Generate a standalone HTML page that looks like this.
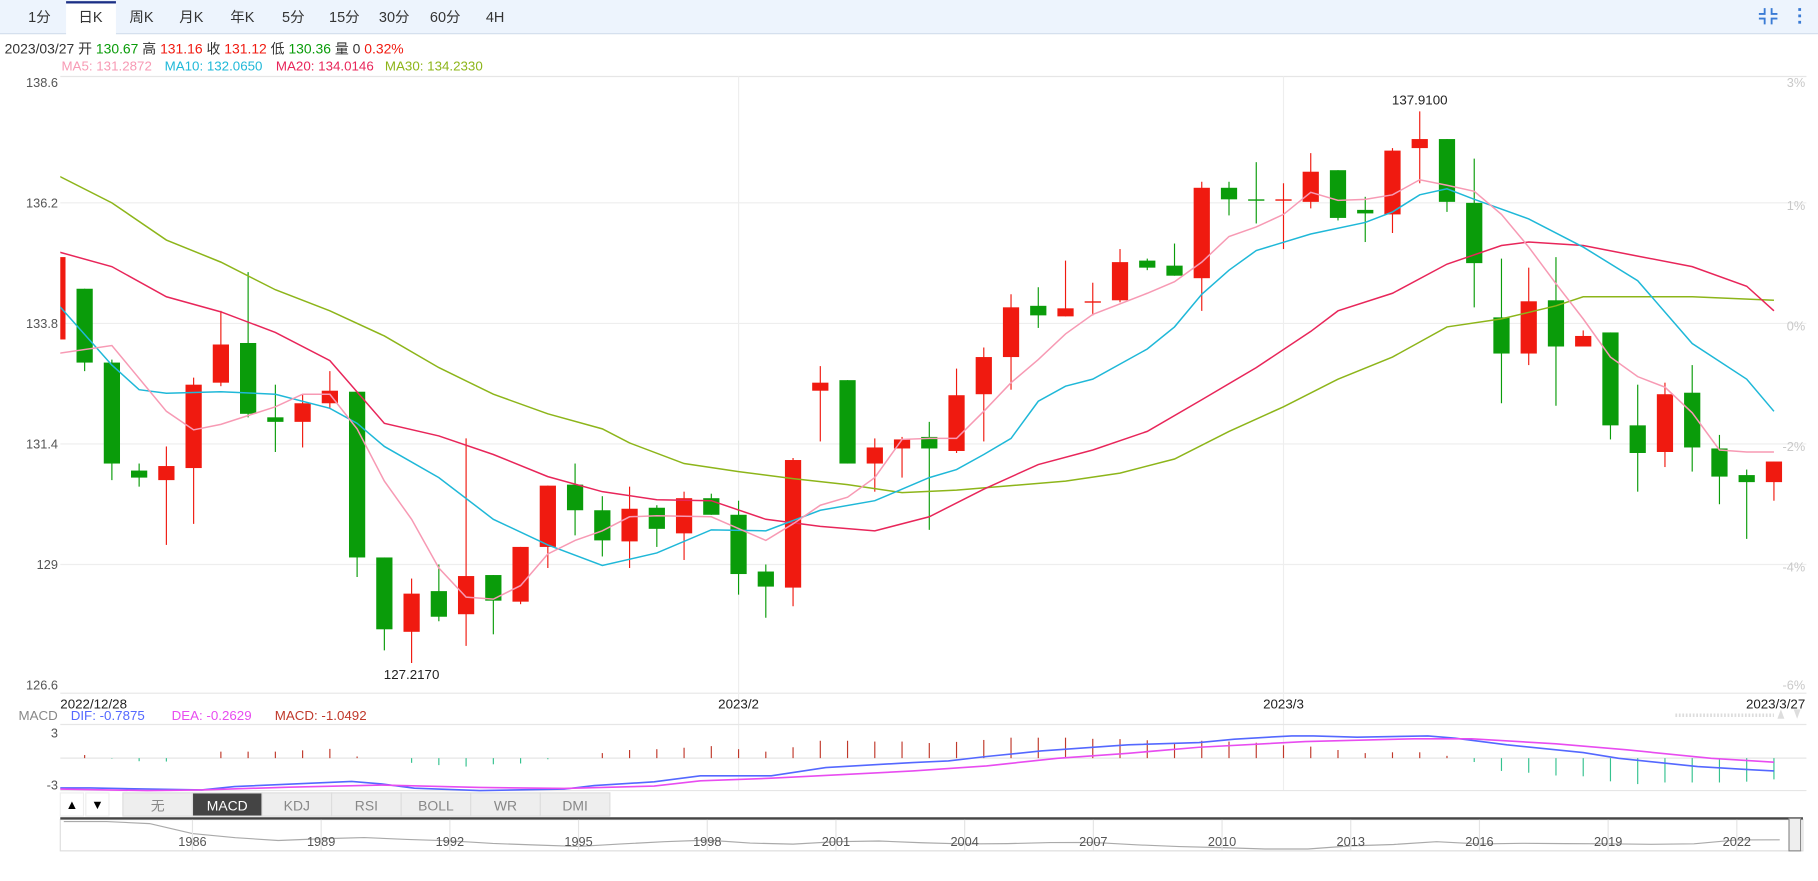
<!DOCTYPE html>
<html><head><meta charset="utf-8">
<style>
html,body{margin:0;padding:0;background:#fff;}
svg{display:block;font-family:"Liberation Sans","Noto Sans CJK SC",sans-serif;}
</style></head>
<body>
<svg id="chart" width="1818" height="881" viewBox="0 0 1568 760" preserveAspectRatio="none" xmlns="http://www.w3.org/2000/svg">
<g id="root">
  <!-- toolbar -->
  <rect x="0" y="0" width="1568" height="29" fill="#edf4fd"/>
  <line x1="0" y1="29" x2="1568" y2="29" stroke="#d5e0ee" stroke-width="1"/>
  <rect x="57" y="1" width="43" height="29" fill="#fff"/>
  <rect x="57" y="1" width="43" height="2" fill="#1b2f86"/>
  <g font-size="12.5" fill="#333" text-anchor="middle">
    <text x="34" y="19">1分</text>
    <text x="78" y="19">日K</text>
    <text x="122" y="19">周K</text>
    <text x="165" y="19">月K</text>
    <text x="209" y="19">年K</text>
    <text x="253" y="19">5分</text>
    <text x="297" y="19">15分</text>
    <text x="340" y="19">30分</text>
    <text x="384" y="19">60分</text>
    <text x="427" y="19">4H</text>
  </g>
  <g stroke="#3a7bd5" stroke-width="1.6" fill="none">
    <path d="M1517 12 h5 v-5 M1533 12 h-5 v-5 M1517 16 h5 v5 M1533 16 h-5 v5"/>
  </g>
  <g fill="#3a7bd5">
    <rect x="1551" y="7" width="2.4" height="2.4"/><rect x="1551" y="12.5" width="2.4" height="2.4"/><rect x="1551" y="18" width="2.4" height="2.4"/>
  </g>

  <!-- info line -->
  <text x="4" y="46" font-size="12" fill="#333">2023/03/27 开 <tspan fill="#0a9c0a">130.67</tspan> 高 <tspan fill="#f01a10">131.16</tspan> 收 <tspan fill="#f01a10">131.12</tspan> 低 <tspan fill="#0a9c0a">130.36</tspan> 量 0 <tspan fill="#f01a10">0.32%</tspan></text>
  <g font-size="11.5">
    <text x="53" y="61" fill="#f79ab4">MA5: 131.2872</text>
    <text x="142" y="61" fill="#1fb8d8">MA10: 132.0650</text>
    <text x="238" y="61" fill="#e8265a">MA20: 134.0146</text>
    <text x="332" y="61" fill="#8db51a">MA30: 134.2330</text>
  </g>
  <line x1="52" y1="66" x2="1558" y2="66" stroke="#e6e6e6"/>
  <line x1="52" y1="598" x2="1558" y2="598" stroke="#e6e6e6"/>

  <g id="grid"></g>
  <g id="axes"></g>
  <defs><clipPath id="plotclip"><rect x="52" y="66" width="1506" height="532"/></clipPath>
  <clipPath id="navclip"><rect x="52" y="707" width="1490" height="27"/></clipPath></defs>
  <g id="candles" clip-path="url(#plotclip)"></g>
  <g id="malines" clip-path="url(#plotclip)"></g>
  <g id="labels"></g>

  <!-- MACD panel -->
  <g font-size="11.5">
    <text x="16" y="621" fill="#888">MACD</text>
    <text x="61" y="621" fill="#5468ff">DIF: -0.7875</text>
    <text x="148" y="621" fill="#e84cf0">DEA: -0.2629</text>
    <text x="237" y="621" fill="#c0392b">MACD: -1.0492</text>
  </g>
  <line x1="1445" y1="617" x2="1530" y2="617" stroke="#ddd" stroke-width="3" stroke-dasharray="1.5,1.5"/>
  <path d="M1533 620 l3 -8 l3 8z" fill="#ddd"/>
  <path d="M1547 612 l3 8 l3 -8z" fill="#ddd"/>
  <line x1="52" y1="625" x2="1558" y2="625" stroke="#e6e6e6"/>
  <line x1="52" y1="654" x2="1558" y2="654" stroke="#e6e6e6"/>
  <line x1="52" y1="682" x2="1558" y2="682" stroke="#e6e6e6"/>
  <text x="50" y="636" font-size="11" fill="#555" text-anchor="end">3</text>
  <text x="50" y="681" font-size="11" fill="#555" text-anchor="end">-3</text>
  <g id="macd"></g>

  <!-- indicator buttons -->
  <g font-size="12">
    <rect x="52" y="684" width="20" height="20" fill="#fff" stroke="#eee"/>
    <text x="62" y="698" text-anchor="middle" fill="#000" font-size="11">▲</text>
    <rect x="74" y="684" width="20" height="20" fill="#fff" stroke="#eee"/>
    <text x="84" y="698" text-anchor="middle" fill="#000" font-size="11">▼</text>
    <rect x="106" y="684" width="60" height="20" fill="#eee" stroke="#ddd"/>
    <text x="136" y="699" text-anchor="middle" fill="#888">无</text>
    <rect x="166" y="684" width="60" height="20" fill="#444" stroke="#ddd"/>
    <text x="196" y="699" text-anchor="middle" fill="#fff">MACD</text>
    <rect x="226" y="684" width="60" height="20" fill="#eee" stroke="#ddd"/>
    <text x="256" y="699" text-anchor="middle" fill="#888">KDJ</text>
    <rect x="286" y="684" width="60" height="20" fill="#eee" stroke="#ddd"/>
    <text x="316" y="699" text-anchor="middle" fill="#888">RSI</text>
    <rect x="346" y="684" width="60" height="20" fill="#eee" stroke="#ddd"/>
    <text x="376" y="699" text-anchor="middle" fill="#888">BOLL</text>
    <rect x="406" y="684" width="60" height="20" fill="#eee" stroke="#ddd"/>
    <text x="436" y="699" text-anchor="middle" fill="#888">WR</text>
    <rect x="466" y="684" width="60" height="20" fill="#eee" stroke="#ddd"/>
    <text x="496" y="699" text-anchor="middle" fill="#888">DMI</text>
  </g>

  <!-- navigator -->
  <rect x="52" y="707" width="1503" height="27" fill="#fff" stroke="#ddd"/>
  <rect x="52" y="705" width="1503" height="2" fill="#444"/>
  <g id="nav"></g>
  <rect x="1543" y="706" width="10" height="28" fill="#eee" stroke="#888"/>
</g>
</svg>
<script>
// ===== candle data (daily, 2022/12/28 .. 2023/3/27) =====
const dates = ["2022/12/28","2023/2","2023/3","2023/3/27"];
const dateIdx = [0,25,45,63];
const opens = [133.48,134.49,133.02,130.87,130.68,130.92,132.62,133.41,131.93,131.84,132.21,132.44,129.14,127.66,128.47,128.01,128.79,128.26,129.35,130.59,130.08,129.46,130.13,129.62,130.32,129.99,128.86,128.54,132.46,132.67,131.01,131.31,131.54,131.26,132.39,133.13,134.15,133.94,134.22,134.26,135.05,134.95,134.70,136.50,136.27,136.25,136.22,136.85,136.06,135.97,137.29,137.47,136.20,133.92,133.20,134.26,133.34,133.62,131.77,131.24,132.42,131.31,130.78,130.64];
const highs = [135.12,134.49,133.08,131.01,131.35,132.72,134.05,134.82,132.58,132.39,132.85,132.44,129.14,128.72,129.00,131.51,128.79,129.35,130.57,131.01,130.36,130.55,130.18,130.45,130.41,130.27,129.00,131.12,132.95,132.67,131.51,131.54,131.84,132.90,133.32,134.38,134.52,135.05,134.61,135.28,135.09,135.39,136.62,136.62,137.01,136.59,137.19,136.85,136.32,137.29,138.02,137.47,137.08,135.09,134.91,135.12,133.66,133.62,132.58,132.62,132.97,131.58,130.89,131.05];
const lows = [133.48,132.85,130.68,130.55,129.39,129.81,132.55,131.93,131.24,131.33,132.11,128.75,127.29,127.04,127.87,127.38,127.61,128.21,128.93,129.58,129.16,128.93,129.35,129.09,129.99,128.40,127.94,128.17,131.45,131.01,130.45,130.73,129.69,131.22,131.45,132.48,133.71,133.94,133.96,134.22,134.86,134.75,134.05,135.95,135.79,135.28,136.09,135.85,135.42,135.60,136.59,136.02,134.12,132.21,132.97,132.16,133.34,131.49,130.45,130.94,130.85,130.20,129.51,130.27];
const closes = [135.12,133.02,131.01,130.73,130.96,132.58,133.38,132.00,131.84,132.21,132.46,129.14,127.71,128.42,127.96,128.77,128.28,129.35,130.57,130.08,129.48,130.11,129.71,130.32,129.99,128.81,128.56,131.08,132.62,131.01,131.33,131.49,131.31,132.37,133.13,134.12,133.96,134.10,134.24,135.02,134.91,134.75,136.50,136.27,136.25,136.27,136.82,135.90,135.99,137.24,137.47,136.22,135.00,133.20,134.24,133.34,133.55,131.77,131.22,132.39,131.33,130.75,130.64,131.05];
// moving averages: [candle index, value]
const ma5 = [[0,133.20],[2,133.36],[4,132.05],[5,131.68],[6,131.79],[8,132.14],[9,132.39],[10,132.39],[11,131.70],[12,130.66],[13,129.90],[14,128.93],[15,128.35],[16,128.31],[17,128.58],[18,129.21],[19,129.48],[20,129.67],[21,129.95],[22,129.97],[24,129.95],[26,129.48],[27,129.81],[28,130.18],[29,130.34],[30,130.73],[31,131.49],[32,131.51],[33,131.51],[34,132.05],[35,132.62],[36,133.08],[37,133.59],[38,133.98],[40,134.40],[41,134.63],[42,135.02],[43,135.53],[44,135.72],[45,135.97],[46,136.41],[47,136.25],[48,136.27],[49,136.36],[50,136.66],[51,136.55],[52,136.43],[53,135.97],[54,135.32],[55,134.59],[56,133.89],[57,133.13],[58,132.74],[59,132.53],[60,132.02],[61,131.28],[62,131.24],[63,131.24]];
const ma10 = [[0,134.19],[2,132.97],[3,132.48],[4,132.41],[6,132.44],[8,132.39],[10,132.11],[11,131.81],[12,131.35],[14,130.73],[16,129.90],[18,129.39],[20,128.98],[22,129.23],[24,129.69],[26,129.67],[28,130.08],[30,130.27],[32,130.73],[33,130.89],[34,131.19],[35,131.51],[36,132.25],[37,132.55],[38,132.69],[40,133.29],[41,133.73],[42,134.38],[43,134.86],[44,135.25],[46,135.58],[48,135.81],[49,136.02],[50,136.36],[51,136.48],[52,136.27],[54,135.88],[56,135.32],[58,134.65],[60,133.40],[62,132.69],[63,132.05]];
const ma20 = [[0,135.23],[2,134.93],[4,134.33],[6,134.03],[8,133.62],[10,133.06],[12,131.81],[14,131.56],[16,131.19],[18,130.75],[20,130.45],[22,130.29],[24,130.27],[26,129.90],[28,129.76],[30,129.67],[32,129.95],[34,130.50],[36,130.99],[38,131.28],[40,131.65],[42,132.28],[44,132.92],[46,133.64],[47,134.05],[49,134.40],[51,134.98],[53,135.35],[54,135.42],[56,135.35],[58,135.14],[60,134.93],[62,134.54],[63,134.05]];
const ma30 = [[0,136.75],[2,136.20],[4,135.46],[6,135.02],[8,134.47],[10,134.05],[12,133.55],[14,132.92],[16,132.39],[18,132.00],[20,131.70],[21,131.42],[23,131.01],[25,130.85],[27,130.71],[29,130.59],[31,130.43],[33,130.48],[35,130.57],[37,130.66],[39,130.82],[41,131.10],[43,131.65],[45,132.14],[47,132.69],[49,133.13],[51,133.73],[53,133.89],[55,134.15],[56,134.33],[58,134.33],[60,134.33],[63,134.26]];
const priceTicks = [138.6,136.2,133.8,131.4,129,126.6];
const pctLabels = ["3%","1%","0%","-2%","-4%","-6%"];
const pctValues = [138.6,136.2,133.8,131.4,129,126.6];
// MACD
const histIdx = [1,2,3,4,6,7,8,9,10,11,13,14,15,16,17,18,20,21,22,23,24,25,26,27,28,29,30,31,32,33,34,35,36,37,38,39,40,41,42,43,44,45,46,47,48,49,50,51,52,53,54,55,56,57,58,59,60,61,62,63];
const histVals = [0.19,-0.03,-0.19,-0.21,0.40,0.40,0.40,0.48,0.57,0.10,-0.29,-0.43,-0.52,-0.38,-0.33,-0.07,0.31,0.50,0.55,0.64,0.74,0.55,0.40,0.67,1.07,1.07,1.02,1.02,0.93,1.00,1.12,1.26,1.26,1.26,1.19,1.17,1.10,0.95,1.07,1.02,0.95,0.79,0.71,0.50,0.31,0.36,0.36,0.14,-0.24,-0.79,-0.90,-1.07,-1.12,-1.43,-1.60,-1.50,-1.50,-1.50,-1.45,-1.31];
const difLine = [[0,-1.84],[1.2,-1.84],[5.3,-1.96],[6.5,-1.75],[10.8,-1.44],[11.9,-1.59],[13.1,-1.85],[15.5,-2.0],[18.6,-1.91],[19.7,-1.69],[21.9,-1.46],[23.6,-1.09],[26.2,-1.09],[28.2,-0.58],[31.4,-0.27],[32.7,-0.17],[34.1,0.10],[36.1,0.44],[39.3,0.82],[41.9,0.96],[43.2,1.17],[45.3,1.37],[46.1,1.37],[47.7,1.29],[50.3,1.37],[51.3,1.23],[53.2,0.82],[56.0,0.34],[57.3,-0.01],[60.2,-0.52],[62.2,-0.72],[63,-0.79]];
const deaLine = [[0,-1.91],[3.3,-2.0],[5.3,-1.96],[8.5,-1.79],[11.9,-1.66],[15.5,-1.81],[18.6,-1.87],[21.9,-1.72],[23.6,-1.40],[26.2,-1.24],[31.4,-0.79],[34.1,-0.48],[36.7,-0.01],[39.3,0.30],[41.9,0.67],[45.8,1.02],[49.8,1.19],[51.9,1.19],[55.0,0.88],[57.6,0.51],[60.7,-0.01],[63,-0.25]];
// navigator (yearly level)
const navYears = [1983,1984,1985,1986,1987,1988,1989,1990,1991,1992,1993,1994,1995,1996,1997,1998,1999,2000,2001,2002,2003,2004,2005,2006,2007,2008,2009,2010,2011,2012,2013,2014,2015,2016,2017,2018,2019,2020,2021,2022,2023];
const navVals = [237,237,225,168,144,128,138,145,134,126,111,102,94,108,121,130,113,107,121,125,115,108,110,116,117,103,93,87,79,79,97,105,121,108,112,110,109,106,109,131,132];
const navTickYears = [1986,1989,1992,1995,1998,2001,2004,2007,2010,2013,2016,2019,2022];

const NS = "http://www.w3.org/2000/svg";
function mk(tag, attrs, parent){const e=document.createElementNS(NS,tag);for(const k in attrs)e.setAttribute(k,attrs[k]);parent.appendChild(e);return e;}
const xAt = i => 49.5 + 23.5*i;
const yAt = p => 71 + (138.6 - p)*43.33;
const yMacd = v => 654 - v*14;
const xNav = yr => 1498 - 37*(2022 - yr);
const yNav = v => 733 - (v - 75)*0.15;

const grid = document.getElementById('grid'), axes = document.getElementById('axes');
priceTicks.forEach((p,k)=>{
  if(k>0 && k<priceTicks.length-1){
    const gl = mk('line',{x1:52,x2:1558,y1:yAt(p),y2:yAt(p),stroke:'#eeeeee'},grid);
    
    
  }
  const t = mk('text',{x:50,y:yAt(p)+4,'font-size':11,fill:'#555','text-anchor':'end'},axes);
  t.textContent = String(p);
  
  
});
pctValues.forEach((p,k)=>{
  const off = k===0?4:(k===pctValues.length-1?4:6);
  const t = mk('text',{x:1557,y:yAt(p)+off,'font-size':11,fill:'#c8c8c8','text-anchor':'end'},axes);
  t.textContent = pctLabels[k];
  
  
});
dateIdx.forEach((i,k)=>{
  if(k>0 && k<dateIdx.length-1){
    const vl = mk('line',{x1:xAt(i),x2:xAt(i),y1:66,y2:682,stroke:'#eeeeee'},grid);
    
    
  }
  const anchor = k===0?'start':(k===dateIdx.length-1?'end':'middle');
  const x = k===0?52:(k===dateIdx.length-1?1557:xAt(i));
  const t = mk('text',{x:x,y:611,'font-size':11.5,fill:'#222','text-anchor':anchor},axes);
  t.textContent = dates[k];
  
  
});

const cg = document.getElementById('candles');
let hiI=0, loI=0;
opens.forEach((o,i)=>{
  const c=closes[i], up = c>=o, col = up?'#f01a10':'#0a9c0a';
  const x = xAt(i);
  const w = mk('line',{x1:x,x2:x,y1:yAt(highs[i]),y2:yAt(lows[i]),stroke:col,'stroke-width':1},cg);
  
  
  const top = yAt(Math.max(o,c)), h = Math.max(1.2, yAt(Math.min(o,c))-top);
  const b = mk('rect',{x:x-7,y:top,width:14,height:h,fill:col},cg);
  
  
  if(highs[i]>highs[hiI]) hiI=i;
  if(lows[i]<lows[loI]) loI=i;
});
const lg = document.getElementById('labels');
const hl = mk('text',{x:xAt(hiI),y:yAt(highs[hiI])-6,'font-size':11.5,fill:'#222','text-anchor':'middle'},lg);
hl.textContent='137.9100';


const ll = mk('text',{x:xAt(loI),y:yAt(lows[loI])+14,'font-size':11.5,fill:'#222','text-anchor':'middle'},lg);
ll.textContent='127.2170';



const mg = document.getElementById('malines');
[[ma30,'#8db51a','ma30-line'],[ma20,'#e8265a','ma20-line'],[ma10,'#1fb8d8','ma10-line'],[ma5,'#f79ab4','ma5-line']].forEach(([arr,col,name])=>{
  const pl = mk('polyline',{points:arr.map(d=>xAt(d[0])+','+yAt(d[1])).join(' '),fill:'none',stroke:col,'stroke-width':1.3},mg);
  
  
});

const macd = document.getElementById('macd');
histIdx.forEach((i,k)=>{
  const v=histVals[k];
  const bl = mk('line',{x1:xAt(i),x2:xAt(i),y1:654,y2:yMacd(v),stroke:v>=0?'#c0392b':'#35c28f','stroke-width':1},macd);
  
  
});
[[difLine,'#5468ff','dif-line'],[deaLine,'#e84cf0','dea-line']].forEach(([arr,col,name])=>{
  const pl = mk('polyline',{points:arr.map(d=>Math.max(52,xAt(d[0]))+','+yMacd(d[1])).join(' '),fill:'none',stroke:col,'stroke-width':1.4},macd);
  
  
});

const nav = document.getElementById('nav');
const np = mk('polyline',{points:navYears.map((y,k)=>xNav(y)+','+yNav(navVals[k])).join(' '),fill:'none',stroke:'#aaa','stroke-width':1,'clip-path':'url(#navclip)'},nav);


navTickYears.forEach(yr=>{
  const tl = mk('line',{x1:xNav(yr),x2:xNav(yr),y1:707,y2:734,stroke:'#e4e4e4'},nav);
  
  
  const t = mk('text',{x:xNav(yr),y:730,'font-size':11,fill:'#555','text-anchor':'middle'},nav);
  t.textContent = String(yr);
  
  
});
</script>
</body></html>
